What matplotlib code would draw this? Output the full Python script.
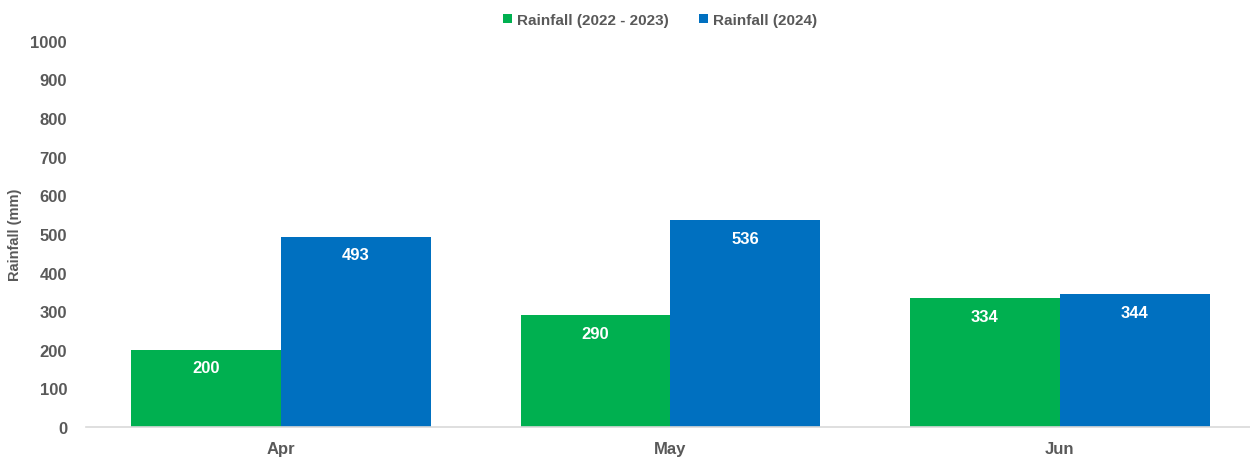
import numpy as np
import matplotlib
matplotlib.use("Agg")
from matplotlib import pyplot as plt

# Data
months = ["Apr", "May", "Jun"]
rain_2022_2023 = [200, 290, 334]
rain_2024 = [493, 536, 344]
series_names = ["Rainfall (2022 - 2023)", "Rainfall (2024)"]

GREEN = "#00B050"
BLUE = "#0070C0"
GREY = "#595959"

plt.rcParams["font.family"] = ["Liberation Sans", "DejaVu Sans"]
plt.rcParams["font.weight"] = "bold"

fig = plt.figure(figsize=(12.5, 4.6), dpi=100)
ax = fig.add_axes([0.0692, 0.0696, 0.9344, 0.8394])

x = np.arange(len(months))
width = 0.385

bars1 = ax.bar(x - width / 2, rain_2022_2023, width, color=GREEN, label=series_names[0])
bars2 = ax.bar(x + width / 2, rain_2024, width, color=BLUE, label=series_names[1])

# Value labels inside the top of each bar
for bars in (bars1, bars2):
    for b in bars:
        ax.annotate(f"{b.get_height():.0f}",
                    xy=(b.get_x() + b.get_width() / 2, b.get_height()),
                    xytext=(0, -13), textcoords="offset points",
                    ha="center", va="center", color="white",
                    fontsize=12, fontweight="bold")

ax.set_xlim(-0.5, 2.5)
ax.set_ylim(0, 1000)
ax.set_yticks(range(0, 1001, 100))
ax.set_xticks(x)
ax.set_xticklabels(months)

ax.tick_params(axis="both", length=0, labelcolor=GREY, labelsize=12)
ax.tick_params(axis="x", pad=10)
ax.tick_params(axis="y", pad=14)

for side in ("top", "right", "left"):
    ax.spines[side].set_visible(False)
ax.spines["bottom"].set_color("#D9D9D9")
ax.spines["bottom"].set_linewidth(1.2)

ax.set_ylabel("Rainfall (mm)", color=GREY, fontsize=10.5, fontweight="bold")
ax.yaxis.set_label_coords(-0.055, 0.5)

leg = fig.legend(loc="upper center", bbox_to_anchor=(0.528, 1.0), ncol=2,
                 frameon=False, fontsize=11, handlelength=0.6, handleheight=0.6,
                 handletextpad=0.3, columnspacing=2.0)
for t in leg.get_texts():
    t.set_color(GREY)
    t.set_fontweight("bold")

fig.savefig("out.png", dpi=100)
